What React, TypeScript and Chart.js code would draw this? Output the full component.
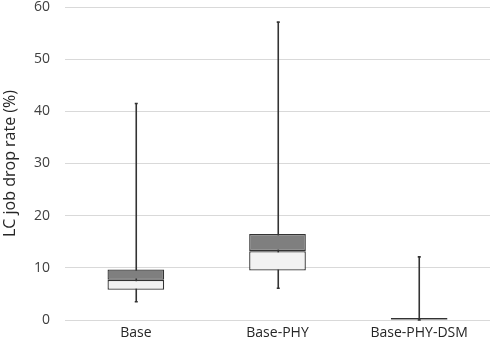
import React, { useEffect, useRef } from "react";
import { Chart, registerables } from "chart.js";

Chart.register(...registerables);

const categories = ["Base", "Base-PHY", "Base-PHY-DSM"];
const minValues = [3.5, 6.1, 0];
const q1Values = [5.8, 9.5, 0];
const medianValues = [7.7, 13.2, 0.1];
const q3Values = [9.7, 16.5, 0.2];
const maxValues = [41.5, 57.1, 12.1];
const yTicks = [0, 10, 20, 30, 40, 50, 60];

const whiskerPlugin = {
  id: "whiskers",
  beforeDatasetsDraw(chart: any) {
    const { ctx, scales } = chart;
    const x = scales.x;
    const y = scales.y;
    ctx.save();
    ctx.strokeStyle = "#333333";
    ctx.lineWidth = 1.6;
    categories.forEach((_, i) => {
      const cx = Math.round(x.getPixelForValue(i)) + 0.25;
      const yMin = y.getPixelForValue(minValues[i]);
      const yMax = y.getPixelForValue(maxValues[i]);
      ctx.beginPath();
      ctx.moveTo(cx, yMin);
      ctx.lineTo(cx, yMax);
      ctx.stroke();
      ctx.beginPath();
      ctx.moveTo(cx - 1.5, yMin);
      ctx.lineTo(cx + 1.5, yMin);
      ctx.moveTo(cx - 1.5, yMax);
      ctx.lineTo(cx + 1.5, yMax);
      ctx.stroke();
    });
    ctx.restore();
  },
};

export default function App() {
  const ref = useRef<HTMLCanvasElement>(null);
  useEffect(() => {
    document.body.style.margin = "0";
    const chart = new Chart(ref.current!, {
      type: "bar",
      data: {
        labels: categories,
        datasets: [
          {
            label: "lower",
            data: categories.map((_, i) => [q1Values[i], medianValues[i]]) as any,
            backgroundColor: "#f2f2f2",
            borderColor: "#333333",
            borderWidth: 1.3,
            borderSkipped: false,
            barPercentage: 0.4,
            categoryPercentage: 1,
            minBarLength: 2,
            clip: false as any,
          },
          {
            label: "upper",
            data: categories.map((_, i) => [medianValues[i], q3Values[i]]) as any,
            backgroundColor: "#7f7f7f",
            borderColor: "#333333",
            borderWidth: 1.3,
            borderSkipped: false,
            barPercentage: 0.4,
            categoryPercentage: 1,
            clip: false as any,
          },
        ],
      },
      options: {
        animation: false,
        responsive: false,
        maintainAspectRatio: false,
        layout: { padding: { top: 7, right: 0, left: 0, bottom: 0 } },
        plugins: {
          legend: { display: false },
          tooltip: { enabled: false },
        },
        scales: {
          x: {
            stacked: true,
            grid: { display: false, drawTicks: false },
            border: { display: false },
            ticks: {
              color: "#262626",
              font: { family: "Open Sans", size: 14 },
              padding: 5,
            },
            afterFit(scale: any) {
              scale.height = 29;
              scale.paddingLeft = 0;
              scale.paddingRight = 0;
            },
          },
          y: {
            stacked: false,
            min: 0,
            max: 60,
            afterBuildTicks(scale: any) {
              scale.ticks = yTicks.map((v) => ({ value: v }));
            },
            grid: { color: "#d9d9d9", lineWidth: 1, drawTicks: false },
            border: { display: false },
            ticks: {
              color: "#404040",
              font: { family: "Open Sans", size: 14 },
              padding: 15,
            },
            title: {
              display: true,
              text: "LC job drop rate (%)",
              color: "#262626",
              font: { family: "Open Sans", size: 16 },
              padding: { top: 1, bottom: 0 },
            },
            afterFit(scale: any) {
              scale.width = 65;
              scale.paddingTop = 0;
              scale.paddingBottom = 0;
            },
          },
        },
      },
      plugins: [whiskerPlugin],
    });
    return () => chart.destroy();
  }, []);
  return (
    <div style={{ position: "absolute", left: 0, top: 0, width: 490, height: 349 }}>
      <canvas ref={ref} width={490} height={349} style={{ width: 490, height: 349 }} />
    </div>
  );
}
